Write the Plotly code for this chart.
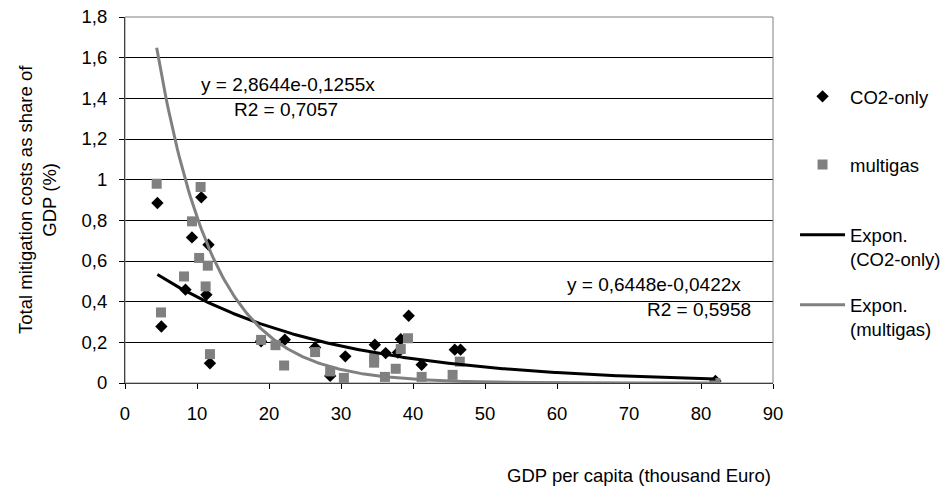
import numpy as np
import plotly.graph_objects as go

# ---- data ----
co2_x = [4.5, 5.05, 8.4, 9.3, 10.6, 11.3, 11.6, 11.8, 18.9, 22.2, 26.4, 28.5, 30.6,
         34.7, 36.2, 37.9, 38.3, 39.4, 41.2, 45.8, 46.6, 82.0]
co2_y = [0.885, 0.278, 0.459, 0.716, 0.913, 0.434, 0.68, 0.097, 0.205, 0.213, 0.175,
         0.035, 0.131, 0.188, 0.147, 0.15, 0.215, 0.331, 0.09, 0.164, 0.164, 0.01]

multi_x = [4.4, 5.0, 8.2, 9.3, 10.3, 10.5, 11.2, 11.5, 11.8, 18.9, 20.9, 22.1, 26.4,
           28.5, 30.4, 34.6, 34.6, 36.1, 37.6, 38.3, 39.3, 41.2, 45.5, 46.5, 82.0]
multi_y = [0.98, 0.347, 0.524, 0.795, 0.615, 0.964, 0.475, 0.577, 0.142, 0.212, 0.186,
           0.086, 0.152, 0.057, 0.025, 0.125, 0.10, 0.03, 0.07, 0.167, 0.22, 0.03, 0.04,
           0.105, 0.0]

# exponential trend line coefficients (as printed on the chart)
co2_fit_a, co2_fit_b = 0.6448, -0.0422
multi_fit_a, multi_fit_b = 2.8644, -0.1255

x_ticks = [0, 10, 20, 30, 40, 50, 60, 70, 80, 90]
y_ticks = [0, 0.2, 0.4, 0.6, 0.8, 1.0, 1.2, 1.4, 1.6, 1.8]
y_tick_labels = ["0", "0,2", "0,4", "0,6", "0,8", "1", "1,2", "1,4", "1,6", "1,8"]

FONT = "Liberation Sans, Arial, sans-serif"
FS = 18.5

fig = go.Figure()

fig.add_trace(go.Scatter(
    x=co2_x, y=co2_y, mode="markers", name="CO2-only",
    marker=dict(symbol="diamond", size=9.5, color="#000000", line=dict(width=0)),
    legend="legend"))
fig.add_trace(go.Scatter(
    x=multi_x, y=multi_y, mode="markers", name="multigas",
    marker=dict(symbol="square", size=10, color="#808080", line=dict(width=0)),
    legend="legend2"))

xc = np.linspace(min(co2_x), max(co2_x), 300)
fig.add_trace(go.Scatter(
    x=xc, y=co2_fit_a * np.exp(co2_fit_b * xc), mode="lines",
    name="Expon.<br>(CO2-only)", line=dict(color="#000000", width=3),
    legend="legend3"))
xm = np.linspace(min(multi_x), max(multi_x), 300)
fig.add_trace(go.Scatter(
    x=xm, y=multi_fit_a * np.exp(multi_fit_b * xm), mode="lines",
    name="Expon.<br>(multigas)", line=dict(color="#808080", width=3),
    legend="legend4"))

axis_common = dict(
    showline=True, linecolor="#000000", linewidth=1,
    ticks="outside", ticklen=5, tickcolor="#000000", tickwidth=1,
    tickfont=dict(family=FONT, size=FS, color="#000000"),
    zeroline=False,
)

fig.update_xaxes(
    range=[0, 90], tickvals=x_ticks, ticktext=[str(v) for v in x_ticks],
    showgrid=False, ticklabelstandoff=9, **axis_common)
fig.update_yaxes(
    range=[0, 1.8], tickvals=y_ticks, ticktext=y_tick_labels,
    showgrid=True, gridcolor="#000000", gridwidth=1, ticklabelstandoff=8,
    **axis_common)


def leg(ypos):
    return dict(x=1.034, xanchor="left", y=ypos, yanchor="middle",
                itemwidth=45, valign="top",
                font=dict(family=FONT, size=FS, color="#000000"),
                bgcolor="rgba(0,0,0,0)", borderwidth=0)


ann_font = dict(family=FONT, size=19, color="#000000")
fig.update_layout(
    width=945, height=487, autosize=False,
    margin=dict(l=125, r=172, t=17, b=104, pad=0, autoexpand=False),
    paper_bgcolor="#ffffff", plot_bgcolor="#ffffff",
    font=dict(family=FONT, size=FS, color="#000000"),
    showlegend=True,
    legend=leg(0.782), legend2=leg(0.596), legend3=leg(0.371), legend4=leg(0.180),
    shapes=[dict(type="rect", xref="paper", yref="paper", x0=0, x1=1, y0=0, y1=1,
                 line=dict(color="#808080", width=1), layer="above")],
    annotations=[
        dict(text="y = 2,8644e-0,1255x", x=22.6, y=1.467,
             xref="x", yref="y", showarrow=False, font=ann_font),
        dict(text="R2 = 0,7057", x=22.35, y=1.344,
             xref="x", yref="y", showarrow=False, font=ann_font),
        dict(text="y = 0,6448e-0,0422x", x=85.8, y=0.4835, xref="x", yref="y",
             xanchor="right", showarrow=False, font=ann_font),
        dict(text="R2 = 0,5958", x=79.7, y=0.3606, xref="x", yref="y",
             showarrow=False, font=ann_font),
        dict(text="Total mitigation costs as share of<br>GDP (%)", textangle=-90,
             x=0, y=0.5, xref="paper", yref="paper", xanchor="center", yanchor="middle",
             xshift=-88, showarrow=False, align="center", font=dict(family=FONT, size=FS, color="#000000")),
        dict(text="GDP per capita (thousand Euro)", x=1, y=0, xref="paper", yref="paper",
             xanchor="right", yanchor="middle", yshift=-92, showarrow=False,
             font=dict(family=FONT, size=FS, color="#000000")),
    ],
)

fig.write_html("out.html")
